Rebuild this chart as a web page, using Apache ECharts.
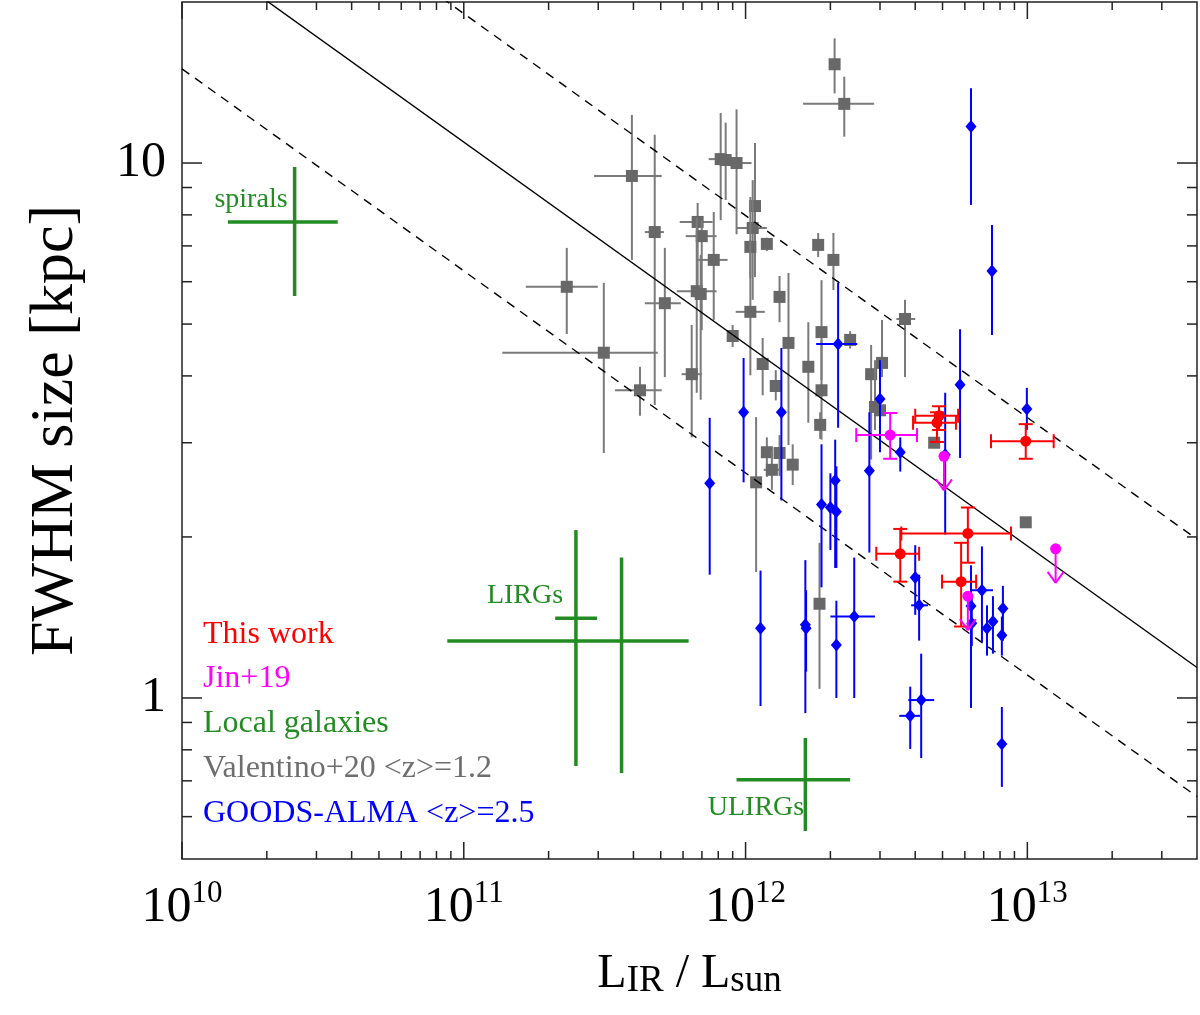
<!DOCTYPE html>
<html>
<head>
<meta charset="utf-8">
<script src="https://cdn.jsdelivr.net/npm/echarts@6/dist/echarts.min.js"></script>
<style>
html,body{margin:0;padding:0;background:#fff;}
#chart{width:1200px;height:1015px;}
</style>
</head>
<body>
<div id="chart"></div>
<script>
// ---- DATA: [L_IR, size, L_lo, L_hi, size_lo, size_hi] ----
const valentinoData = [
  [2.07e12, 15.3, null, null, 13.5, 17.1],
  [2.24e12, 12.9, 1.60e12, 2.86e12, 11.2, 14.5],
  [3.95e11, 9.46, 2.90e11, 5.04e11, 6.59, 12.3],
  [4.76e11, 7.43, 4.39e11, 5.13e11, 3.53, 11.3],
  [8.16e11, 10.17, 7.40e11, 8.92e11, 7.82, 12.4],
  [8.50e11, 10.13, null, null, 8.53, 11.9],
  [9.29e11, 10.0, 8.92e11, 1.05e12, 7.36, 12.6],
  [1.08e12, 8.31, null, null, 6.12, 10.9],
  [1.06e12, 7.56, 9.29e11, 1.19e12, 5.55, 9.29],
  [1.04e12, 6.97, null, null, 6.10, 8.64],
  [1.19e12, 7.06, null, null, 6.85, 7.25],
  [6.76e11, 7.76, 5.84e11, 7.64e11, 5.55, 8.42],
  [6.99e11, 7.30, 6.13e11, 7.89e11, 4.87, 7.82],
  [7.71e11, 6.59, 6.71e11, 8.63e11, 5.09, 8.10],
  [2.32e11, 5.87, 1.66e11, 2.99e11, 4.79, 6.94],
  [3.14e11, 4.42, 1.37e11, 4.88e11, 2.87, 5.97],
  [4.22e11, 3.76, 3.44e11, 5.04e11, 3.37, 4.16],
  [5.17e11, 5.47, 4.39e11, 5.89e11, 3.98, 6.94],
  [6.71e11, 5.76, 5.70e11, 7.89e11, 3.72, 7.89],
  [6.93e11, 5.69, null, null, 3.61, 6.73],
  [6.44e11, 4.03, 5.93e11, 6.99e11, 3.07, 4.98],
  [9.00e11, 4.75, null, null, 4.53, 4.98],
  [1.04e12, 5.27, 9.23e11, 1.17e12, 4.01, 7.18],
  [1.32e12, 5.62, null, null, 5.04, 6.15],
  [1.42e12, 4.61, null, null, 2.97, 6.23],
  [1.81e12, 7.03, null, null, 6.67, 7.40],
  [2.05e12, 6.59, null, null, 5.79, 7.40],
  [1.86e12, 4.83, null, null, 3.93, 6.04],
  [2.35e12, 4.67, null, null, 4.50, 4.85],
  [3.68e12, 5.11, 3.43e12, 4.00e12, 3.98, 5.55],
  [1.15e12, 4.21, null, null, 3.68, 4.71],
  [1.28e12, 3.83, null, null, 3.60, 4.10],
  [1.67e12, 4.16, null, null, 3.27, 5.04],
  [1.86e12, 3.76, null, null, 3.04, 4.67],
  [2.79e12, 4.03, null, null, 2.79, 4.57],
  [3.05e12, 4.23, null, null, 3.98, 5.09],
  [2.88e12, 3.50, null, null, 3.17, 4.28],
  [3.00e12, 3.45, null, null, 3.20, 3.70],
  [1.84e12, 3.24, null, null, 3.05, 3.42],
  [4.67e12, 3.00, null, null, null, null],
  [1.19e12, 2.88, null, null, 2.59, 3.07],
  [1.32e12, 2.87, null, null, 2.60, 3.10],
  [1.24e12, 2.67, 1.16e12, 1.32e12, 2.45, 2.90],
  [1.47e12, 2.73, null, null, 2.50, 2.98],
  [1.09e12, 2.53, null, null, 1.72, 3.35],
  [9.87e12, 2.13, null, null, null, null],
  [1.83e12, 1.50, null, null, 1.04, 1.95]
];
const goodsAlmaData = [
  [6.31e12, 11.7, null, null, 8.35, 13.8],
  [7.49e12, 6.28, null, null, 4.77, 7.66],
  [2.13e12, 4.59, 1.78e12, 2.49e12, 3.20, 5.97],
  [9.84e11, 3.42, null, null, 2.53, 4.32],
  [1.34e12, 3.42, null, null, 2.34, 4.51],
  [7.46e11, 2.52, null, null, 1.70, 3.34],
  [3.00e12, 3.62, null, null, 2.88, 4.28],
  [5.77e12, 3.85, null, null, 2.81, 4.89],
  [9.96e12, 3.47, null, null, 3.17, 3.80],
  [3.54e12, 2.88, null, null, 2.65, 3.07],
  [2.75e12, 2.66, null, null, 1.87, 3.42],
  [5.11e12, 2.85, null, null, 2.02, 3.72],
  [2.08e12, 2.55, null, null, 1.75, 3.04],
  [1.86e12, 2.30, null, null, 1.61, 2.98],
  [2.00e12, 2.27, null, null, 1.89, 2.63],
  [2.10e12, 2.23, null, null, 1.75, 2.71],
  [1.13e12, 1.35, null, null, 0.966, 1.73],
  [1.63e12, 1.37, null, null, 0.937, 1.81],
  [1.64e12, 1.35, null, null, 1.12, 1.59],
  [2.10e12, 1.256, null, null, 1.00, 1.52],
  [2.43e12, 1.42, 2.00e12, 2.88e12, 1.00, 1.83],
  [4.00e12, 1.68, null, null, 1.43, 1.93],
  [4.13e12, 1.49, 3.87e12, 4.44e12, 1.28, 1.70],
  [4.20e12, 0.991, 3.78e12, 4.67e12, 0.772, 1.21],
  [3.84e12, 0.926, 3.51e12, 4.16e12, 0.803, 1.05],
  [6.31e12, 1.486, null, null, 0.958, 1.77],
  [6.35e12, 1.38, null, null, 1.25, 1.55],
  [6.90e12, 1.59, 6.31e12, 7.55e12, 1.27, 1.92],
  [7.55e12, 1.39, null, null, 1.21, 1.55],
  [7.19e12, 1.35, null, null, 1.20, 1.49],
  [8.19e12, 1.47, null, null, 1.28, 1.62],
  [8.12e12, 1.31, null, null, 1.20, 1.42],
  [8.12e12, 0.820, null, null, 0.682, 0.962]
];
const thisWorkData = [
  [4.86e12, 3.37, 4.00e12, 5.68e12, 3.17, 3.51],
  [4.78e12, 3.27, 3.93e12, 5.58e12, 3.01, 3.42],
  [9.87e12, 3.02, 7.43e12, 1.24e13, 2.80, 3.25],
  [6.15e12, 2.03, 3.57e12, 8.75e12, 1.79, 2.27],
  [3.54e12, 1.86, 2.91e12, 4.13e12, 1.65, 2.07],
  [5.82e12, 1.65, 4.98e12, 6.58e12, 1.36, 1.95]
];
const jinData = [
  [3.26e12, 3.10, 2.47e12, 4.06e12, 2.80, 3.41]
];
// upper limits [L_IR, size]
const jinLimits = [
  [5.06e12, 2.83],
  [1.26e13, 1.90],
  [6.15e12, 1.55]
];
// local galaxies (spirals, LIRGs x2, ULIRGs)
const localData = [
  [2.51e10, 7.76, 1.455e10, 3.57e10, 5.64, 9.83],
  [2.50e11, 1.41, 2.11e11, 2.97e11, 0.746, 2.06],
  [3.63e11, 1.278, 8.74e10, 6.28e11, 0.724, 1.83],
  [1.63e12, 0.703, 9.29e11, 2.35e12, 0.564, 0.842]
];
// relation and its scatter (end points)
const relationLine = [[1e10, 26.1], [4e13, 1.14]];
const relationUpper = [[1e10, 45.4], [4e13, 1.98]];
const relationLower = [[1e10, 15.0], [4e13, 0.654]];
// ticks
const xMajorTicks = [1e10, 1e11, 1e12, 1e13];
const xMinorTicks = [2e10,3e10,4e10,5e10,6e10,7e10,8e10,9e10,
  2e11,3e11,4e11,5e11,6e11,7e11,8e11,9e11,
  2e12,3e12,4e12,5e12,6e12,7e12,8e12,9e12,
  2e13,3e13];
const yMajorTicks = [1, 10];
const yMinorTicks = [0.6,0.7,0.8,0.9,2,3,4,5,6,7,8,9];
// texts
const legendLabels = ['This work', 'Jin+19', 'Local galaxies', 'Valentino+20 <z>=1.2', 'GOODS-ALMA <z>=2.5'];
const legendColors = ['#ff0000', '#ff00ff', '#228b22', '#6e6e6e', '#0000ff'];
const localLabels = ['spirals', 'LIRGs', 'ULIRGs'];

const FONT = "'Liberation Serif','DejaVu Serif',serif";
const GREEN = '#228b22';

function errSeries(rows, o) {
  return {
    type: 'custom', z: o.z, clip: true, silent: true,
    data: rows.map(r => [r[0], r[1]]),
    renderItem: function (params, api) {
      const r = rows[params.dataIndex];
      const c = api.coord([r[0], r[1]]);
      const st = { stroke: o.bar, lineWidth: o.lw, fill: null };
      const ch = [];
      const seg = (x1, y1, x2, y2) => ch.push({ type: 'line', shape: { x1, y1, x2, y2 }, style: st });
      if (r[2] != null && r[3] != null) {
        const a = api.coord([r[2], r[1]]), b = api.coord([r[3], r[1]]);
        seg(a[0], c[1], b[0], c[1]);
        if (o.cap) { seg(a[0], c[1] - o.cap, a[0], c[1] + o.cap); seg(b[0], c[1] - o.cap, b[0], c[1] + o.cap); }
      }
      if (r[4] != null && r[5] != null) {
        const a = api.coord([r[0], r[4]]), b = api.coord([r[0], r[5]]);
        seg(c[0], a[1], c[0], b[1]);
        if (o.cap) { seg(c[0] - o.cap, a[1], c[0] + o.cap, a[1]); seg(c[0] - o.cap, b[1], c[0] + o.cap, b[1]); }
      }
      if (o.arrow) {
        const L = o.arrow;
        seg(c[0], c[1], c[0], c[1] + L);
        seg(c[0] - 8, c[1] + L - 11, c[0], c[1] + L);
        seg(c[0] + 8, c[1] + L - 11, c[0], c[1] + L);
      }
      const f = { fill: o.color };
      if (o.marker === 'square') ch.push({ type: 'rect', shape: { x: c[0] - 6, y: c[1] - 6, width: 12, height: 12 }, style: f });
      else if (o.marker === 'diamond') ch.push({ type: 'polygon', shape: { points: [[c[0], c[1] - 6.5], [c[0] + 5.5, c[1]], [c[0], c[1] + 6.5], [c[0] - 5.5, c[1]]] }, style: f });
      else if (o.marker === 'circle') ch.push({ type: 'circle', shape: { cx: c[0], cy: c[1], r: 5.5 }, style: f });
      return { type: 'group', children: ch };
    }
  };
}

function tickSeries(values, axis, len) {
  return {
    type: 'custom', z: 20, clip: false, silent: true,
    data: values.map(v => axis === 'x' ? [v, 1] : [1e12, v]),
    renderItem: function (params, api) {
      const cs = params.coordSys;
      const v = values[params.dataIndex];
      const st = { stroke: '#222', lineWidth: 1.5 };
      if (axis === 'x') {
        const x = api.coord([v, 1])[0];
        const yb = cs.y + cs.height, yt = cs.y;
        return { type: 'group', children: [
          { type: 'line', shape: { x1: x, y1: yb, x2: x, y2: yb - len }, style: st },
          { type: 'line', shape: { x1: x, y1: yt, x2: x, y2: yt + len }, style: st }
        ] };
      } else {
        const y = api.coord([1e12, v])[1];
        const xl = cs.x, xr = cs.x + cs.width;
        return { type: 'group', children: [
          { type: 'line', shape: { x1: xl, y1: y, x2: xl + len, y2: y }, style: st },
          { type: 'line', shape: { x1: xr, y1: y, x2: xr - len, y2: y }, style: st }
        ] };
      }
    }
  };
}

function lineSeries(data, dashed) {
  return {
    type: 'line', data: data, showSymbol: false, symbol: 'none', z: 3, silent: true, clip: true,
    lineStyle: { color: '#000', width: 1.4, type: dashed ? [9, 7] : 'solid' }
  };
}

const chart = echarts.init(document.getElementById('chart'));

const graphics = [];
const legendY = [636, 680, 725, 770, 815];
legendLabels.forEach((t, i) => graphics.push({
  type: 'text', left: 203, top: legendY[i] - 17, z: 30,
  style: { text: t, fill: legendColors[i], font: '32px ' + FONT }
}));
const localPos = [[251, 200], [525, 596], [756, 808]];
localLabels.forEach((t, i) => graphics.push({
  type: 'text', x: localPos[i][0], y: localPos[i][1], z: 30,
  style: { text: t, fill: GREEN, font: '28px ' + FONT, textAlign: 'center', textVerticalAlign: 'middle' }
}));

chart.setOption({
  animation: false,
  textStyle: { fontFamily: FONT },
  grid: { left: 182, right: 2, top: 2, bottom: 156, show: true, borderColor: '#222', borderWidth: 1.5, backgroundColor: 'rgba(0,0,0,0)' },
  xAxis: {
    type: 'log', logBase: 10, min: 1e10, max: 4e13,
    axisLine: { show: false }, axisTick: { show: false }, splitLine: { show: false },
    axisLabel: {
      margin: 19,
      formatter: function (v) {
        const l = Math.log10(v), e = Math.round(l);
        if (Math.abs(l - e) > 1e-6) return '';
        return '{b|10}{s|' + e + '}';
      },
      rich: {
        b: { fontSize: 50, lineHeight: 60, fontFamily: FONT, color: '#000' },
        s: { fontSize: 31, lineHeight: 31, verticalAlign: 'top', fontFamily: FONT, color: '#000' }
      }
    },
    name: '{b|L}{sub|IR}{b| / L}{sub|sun}',
    nameLocation: 'middle', nameGap: 89,
    nameTextStyle: {
      rich: {
        b: { fontSize: 48, lineHeight: 52, fontFamily: FONT, color: '#000' },
        sub: { fontSize: 37, lineHeight: 32, verticalAlign: 'bottom', fontFamily: FONT, color: '#000' }
      }
    }
  },
  yAxis: {
    type: 'log', logBase: 10, min: 0.5, max: 20,
    axisLine: { show: false }, axisTick: { show: false }, splitLine: { show: false },
    axisLabel: {
      margin: 16, fontSize: 50, color: '#000', fontFamily: FONT,
      formatter: function (v) {
        const l = Math.log10(v), e = Math.round(l);
        if (Math.abs(l - e) > 1e-6) return '';
        return String(Math.round(v));
      }
    },
    name: 'FWHM size [kpc]',
    nameLocation: 'middle', nameRotate: 90, nameGap: 95,
    nameTextStyle: { fontSize: 62, color: '#000', fontFamily: FONT }
  },
  graphic: graphics,
  series: [
    errSeries(valentinoData, { z: 2, bar: '#7a7a7a', lw: 2, color: '#686868', marker: 'square' }),
    lineSeries(relationLine, false),
    lineSeries(relationUpper, true),
    lineSeries(relationLower, true),
    errSeries(goodsAlmaData, { z: 4, bar: '#0000ff', lw: 2, color: '#0000ff', marker: 'diamond' }),
    errSeries(localData, { z: 4, bar: GREEN, lw: 3.5, color: GREEN, marker: 'none' }),
    errSeries(thisWorkData, { z: 5, bar: '#ff0000', lw: 2, color: '#ff0000', marker: 'circle', cap: 7 }),
    errSeries(jinData, { z: 6, bar: '#ff00ff', lw: 2, color: '#ff00ff', marker: 'circle', cap: 7 }),
    errSeries(jinLimits.map(r => [r[0], r[1], null, null, null, null]), { z: 6, bar: '#ff00ff', lw: 2, color: '#ff00ff', marker: 'circle', arrow: 34 }),
    tickSeries(xMajorTicks, 'x', 17),
    tickSeries(xMinorTicks, 'x', 8),
    tickSeries(yMajorTicks, 'y', 20),
    tickSeries(yMinorTicks, 'y', 10)
  ]
});
</script>
</body>
</html>
